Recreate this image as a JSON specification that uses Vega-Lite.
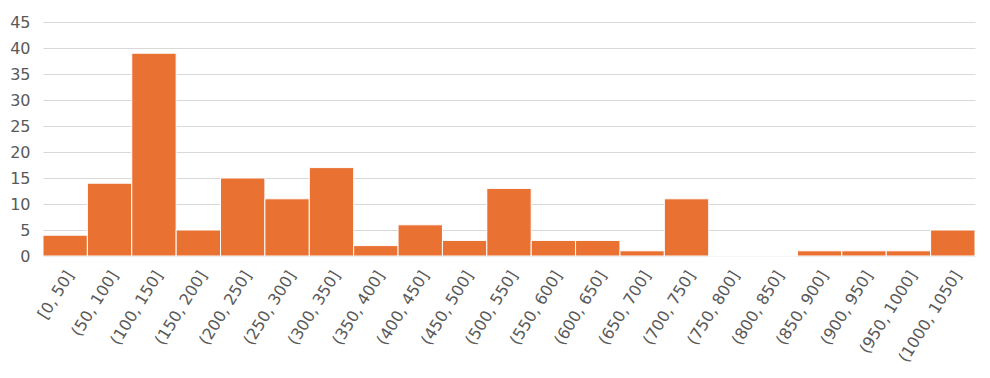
{
  "$schema": "https://vega.github.io/schema/vega-lite/v6.json",
  "autosize": {"type": "none"},
  "width": 932,
  "height": 234,
  "padding": {"left": 43, "top": 22, "right": 15, "bottom": 122},
  "background": "#ffffff",
  "data": {
    "values": [
      {"bin": "[0, 50]", "count": 4},
      {"bin": "(50, 100]", "count": 14},
      {"bin": "(100, 150]", "count": 39},
      {"bin": "(150, 200]", "count": 5},
      {"bin": "(200, 250]", "count": 15},
      {"bin": "(250, 300]", "count": 11},
      {"bin": "(300, 350]", "count": 17},
      {"bin": "(350, 400]", "count": 2},
      {"bin": "(400, 450]", "count": 6},
      {"bin": "(450, 500]", "count": 3},
      {"bin": "(500, 550]", "count": 13},
      {"bin": "(550, 600]", "count": 3},
      {"bin": "(600, 650]", "count": 3},
      {"bin": "(650, 700]", "count": 1},
      {"bin": "(700, 750]", "count": 11},
      {"bin": "(750, 800]", "count": 0},
      {"bin": "(800, 850]", "count": 0},
      {"bin": "(850, 900]", "count": 1},
      {"bin": "(900, 950]", "count": 1},
      {"bin": "(950, 1000]", "count": 1},
      {"bin": "(1000, 1050]", "count": 5}
    ]
  },
  "mark": {"type": "bar", "color": "#E97132", "stroke": "#ffffff", "strokeWidth": 1},
  "encoding": {
    "x": {
      "field": "bin",
      "type": "ordinal",
      "sort": null,
      "scale": {"paddingInner": 0, "paddingOuter": 0},
      "axis": {
        "title": null,
        "labelAngle": -58,
        "labelFont": "DejaVu Sans",
        "labelFontSize": 16,
        "labelColor": "#595959",
        "labelPadding": 16,
        "labelOffset": 5,
        "ticks": false,
        "domainColor": "#D9D9D9",
        "domainWidth": 1
      }
    },
    "y": {
      "field": "count",
      "type": "quantitative",
      "scale": {"domain": [0, 45], "nice": false},
      "axis": {
        "title": null,
        "values": [0, 5, 10, 15, 20, 25, 30, 35, 40, 45],
        "labelFont": "DejaVu Sans",
        "labelFontSize": 16,
        "labelColor": "#595959",
        "labelPadding": 13,
        "ticks": false,
        "domain": false,
        "grid": true,
        "gridColor": "#D9D9D9",
        "gridWidth": 1
      }
    }
  },
  "config": {"view": {"stroke": null}}
}
